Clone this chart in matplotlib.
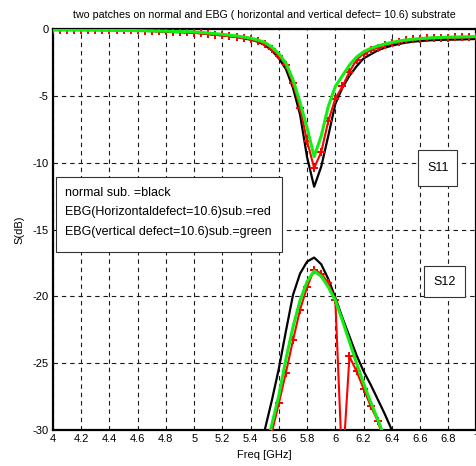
import matplotlib

matplotlib.use("Agg")
import matplotlib.pyplot as plt
from matplotlib.patches import Rectangle

plt.rcParams["font.family"] = ["Liberation Sans", "DejaVu Sans"]
plt.rcParams["axes.unicode_minus"] = False

# S11 sampled every 0.05 GHz from 4 to 7 GHz
freq = [4.00, 4.05, 4.10, 4.15, 4.20, 4.25, 4.30, 4.35, 4.40, 4.45,
        4.50, 4.55, 4.60, 4.65, 4.70, 4.75, 4.80, 4.85, 4.90, 4.95,
        5.00, 5.05, 5.10, 5.15, 5.20, 5.25, 5.30, 5.35, 5.40, 5.45,
        5.50, 5.55, 5.60, 5.65, 5.70, 5.75, 5.80, 5.85, 5.90, 5.95,
        6.00, 6.05, 6.10, 6.15, 6.20, 6.25, 6.30, 6.35, 6.40, 6.45,
        6.50, 6.55, 6.60, 6.65, 6.70, 6.75, 6.80, 6.85, 6.90, 6.95, 7.00]

s11_normal = [-0.05, -0.05, -0.05, -0.05, -0.06, -0.06, -0.07, -0.07, -0.08, -0.09,
              -0.10, -0.11, -0.12, -0.14, -0.16, -0.18, -0.20, -0.22, -0.24, -0.26,
              -0.28, -0.33, -0.38, -0.43, -0.48, -0.54, -0.60, -0.70, -0.80, -0.95,
              -1.20, -1.60, -2.20, -3.00, -4.40, -6.40, -9.60, -11.80, -10.30, -8.00,
              -5.60, -4.40, -3.50, -2.80, -2.20, -1.90, -1.60, -1.40, -1.25, -1.12,
              -1.02, -0.95, -0.90, -0.86, -0.83, -0.81, -0.80, -0.79, -0.78, -0.76, -0.75]

s11_horiz = [-0.05, -0.05, -0.05, -0.05, -0.05, -0.06, -0.06, -0.07, -0.07, -0.08,
             -0.08, -0.09, -0.10, -0.12, -0.14, -0.16, -0.18, -0.20, -0.22, -0.24,
             -0.27, -0.32, -0.38, -0.43, -0.48, -0.53, -0.58, -0.65, -0.75, -0.90,
             -1.10, -1.50, -2.00, -2.70, -4.05, -5.90, -8.40, -10.40, -9.20, -6.90,
             -5.20, -4.30, -3.20, -2.30, -1.85, -1.60, -1.40, -1.20, -1.07, -0.95,
             -0.85, -0.78, -0.72, -0.68, -0.65, -0.65, -0.64, -0.63, -0.62, -0.61, -0.60]

s11_vert = [-0.08, -0.08, -0.08, -0.08, -0.09, -0.09, -0.09, -0.10, -0.10, -0.10,
            -0.11, -0.11, -0.12, -0.13, -0.14, -0.15, -0.16, -0.18, -0.19, -0.20,
            -0.22, -0.26, -0.30, -0.35, -0.40, -0.46, -0.52, -0.60, -0.68, -0.82,
            -1.00, -1.35, -1.85, -2.55, -3.80, -5.50, -7.40, -9.55, -8.00, -5.80,
            -4.30, -3.50, -2.70, -2.10, -1.70, -1.45, -1.27, -1.12, -1.00, -0.90,
            -0.82, -0.76, -0.72, -0.68, -0.65, -0.63, -0.61, -0.60, -0.59, -0.58, -0.57]

# S12 around the resonance
freq12 = [5.45, 5.50, 5.55, 5.60, 5.65, 5.70, 5.75, 5.80, 5.85, 5.90, 5.95,
          6.00, 6.05, 6.10, 6.15, 6.20, 6.25, 6.30, 6.35, 6.40, 6.45]

s12_normal = [-33.0, -30.0, -27.8, -25.4, -22.6, -19.9, -18.3, -17.4, -17.1, -17.6, -18.7,
              -20.1, -21.6, -23.0, -24.4, -25.6, -26.6, -27.7, -28.8, -30.0, -31.5]
s12_horiz = [-35.0, -32.5, -30.2, -28.0, -25.7, -23.3, -21.0, -19.3, -18.0, -18.3, -19.0,
             -20.3, -33.0, -24.5, -25.6, -26.9, -28.2, -29.3, -31.0, -32.5, -34.0]
s12_vert = [-34.0, -31.8, -29.6, -27.4, -24.7, -22.3, -20.3, -18.9, -18.1, -18.5, -19.3,
            -20.3, -21.8, -23.4, -25.0, -26.5, -27.9, -29.2, -30.6, -32.0, -33.5]

xticks = [4.0, 4.2, 4.4, 4.6, 4.8, 5.0, 5.2, 5.4, 5.6, 5.8, 6.0, 6.2, 6.4, 6.6, 6.8, 7.0]
xtick_labels = ["4", "4.2", "4.4", "4.6", "4.8", "5", "5.2", "5.4", "5.6", "5.8",
                "6", "6.2", "6.4", "6.6", "6.8", "7"]
yticks = [-30, -25, -20, -15, -10, -5, 0]

legend_lines = ["normal sub. =black",
                "EBG(Horizontaldefect=10.6)sub.=red",
                "EBG(vertical defect=10.6)sub.=green"]

fig = plt.figure(figsize=(4.77, 4.66), dpi=100)
ax = fig.add_axes([53 / 477, 36 / 466, 423.5 / 477, 401 / 466])

ax.plot(freq, s11_normal, color="black", lw=1.6, zorder=3)
ax.plot(freq12, s12_normal, color="black", lw=1.6, zorder=3)
ax.plot(freq, s11_horiz, color="red", lw=1.5, marker="P", ms=5.5, mew=0, zorder=4)
ax.plot(freq12, s12_horiz, color="red", lw=1.5, marker="P", ms=5.5, mew=0, zorder=4)
ax.plot(freq, s11_vert, color="#11ee11", lw=2.2, zorder=5)
ax.plot(freq12, s12_vert, color="#11ee11", lw=2.2, zorder=5)

ax.set_xlim(4, 7)
ax.set_ylim(-30, 0)
ax.set_xticks(xticks)
ax.set_xticklabels(xtick_labels)
ax.set_yticks(yticks)
ax.tick_params(direction="in", length=0, labelsize=8, pad=3)
ax.grid(True, color="0.1", linestyle=(0, (4, 3.5)), lw=0.8)
for sp in ax.spines.values():
    sp.set_linewidth(1.6)

ax.set_title("two patches on normal and EBG ( horizontal and vertical defect= 10.6) substrate",
             fontsize=7.7, pad=8)
ax.set_xlabel("Freq [GHz]", fontsize=8, labelpad=4)
ax.set_ylabel("S(dB)", fontsize=8, labelpad=6)

# legend-like annotation box
ax.add_patch(Rectangle((0.0071, 0.444), 0.534, 0.187, transform=ax.transAxes,
                       facecolor="white", edgecolor="0.2", lw=0.8, zorder=10))
for i, line in enumerate(legend_lines):
    ax.text(0.028, 0.591 - i * 0.048, line, transform=ax.transAxes, fontsize=9,
            va="center", ha="left", zorder=11)

ax.add_patch(Rectangle((0.863, 0.608), 0.092, 0.090, transform=ax.transAxes,
                       facecolor="white", edgecolor="0.2", lw=0.8, zorder=10))
ax.text(0.909, 0.653, "S11", transform=ax.transAxes, fontsize=9,
        ha="center", va="center", zorder=11)
ax.add_patch(Rectangle((0.877, 0.332), 0.095, 0.077, transform=ax.transAxes,
                       facecolor="white", edgecolor="0.2", lw=0.8, zorder=10))
ax.text(0.924, 0.370, "S12", transform=ax.transAxes, fontsize=9,
        ha="center", va="center", zorder=11)

fig.savefig("out.png", dpi=100)
plt.close(fig)
